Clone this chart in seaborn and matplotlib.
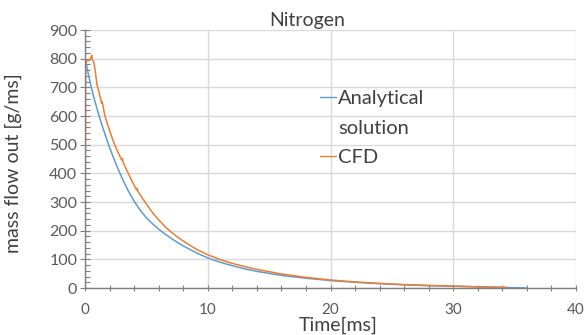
"""Nitrogen blowdown: analytical solution vs CFD mass flow out."""

import matplotlib

matplotlib.use("Agg")

import matplotlib.pyplot as plt
import pandas as pd
import seaborn as sns
from matplotlib.lines import Line2D
from matplotlib.ticker import MultipleLocator

sns.set_theme(style="white")
plt.rcParams["font.family"] = ["Lato", "DejaVu Sans"]

# values
analytical_time = [0, 0.25, 0.5, 0.75, 1, 1.25, 1.5, 1.75, 2, 2.5, 3, 3.5,
                   4, 4.5, 5, 5.5, 6, 6.5, 7, 7.5, 8, 9, 10, 11, 12, 13, 14,
                   16, 18, 20, 22, 24, 26, 28, 30, 32, 34, 36]
analytical_flow = [805, 750, 702, 660, 622, 586, 553, 521, 490, 435, 385,
                   341, 303, 271, 245, 224, 205, 189, 174, 160, 147, 124,
                   105, 90, 78, 67, 58, 44, 34, 26, 20, 15, 11, 8, 6, 4, 2, 0]

cfd_time = [0, 0.05, 0.2, 0.35, 0.45, 0.55, 0.6, 0.7, 0.8, 0.9, 1.0, 1.1,
            1.2, 1.3, 1.35, 1.4, 1.5, 1.6, 1.8, 2.0, 2.2, 2.4, 2.6, 2.8,
            3.0, 3.05, 3.1, 3.3, 3.5, 3.75, 4.0, 4.2, 4.25, 4.3, 4.6, 5.0,
            5.5, 6.0, 6.5, 7.0, 7.5, 8.0, 9.0, 10, 11, 12, 13, 14, 16, 18,
            20, 22, 24, 26, 28, 30, 32, 34.4]
cfd_flow = [0, 785, 795, 793, 800, 812, 795, 790, 768, 735, 705, 690, 672,
            655, 645, 650, 628, 605, 575, 550, 525, 502, 482, 463, 446, 452,
            440, 420, 402, 380, 358, 343, 348, 338, 318, 293, 263, 238, 215,
            196, 179, 164, 137, 116, 99, 86, 75, 65, 49, 37, 28, 21, 16, 12,
            9, 7, 4, 2]

title_text = "Nitrogen"
x_label = "Time[ms]"
y_label = "mass flow out [g/ms]"
legend_labels = ["Analytical", "solution", "CFD"]

BLUE = "#5B9BD5"
ORANGE = "#ED7D31"
GRID = "#D9D9D9"
AXIS = "#7F7F7F"
TEXT = "#404040"

analytical = pd.DataFrame({"time": analytical_time, "flow": analytical_flow})
cfd = pd.DataFrame({"time": cfd_time, "flow": cfd_flow})

fig = plt.figure(figsize=(5.87, 3.35), dpi=100)
ax = fig.add_axes([85 / 587, 1 - 288 / 335, 491 / 587, 258 / 335])

sns.lineplot(data=analytical, x="time", y="flow", color=BLUE, linewidth=1.1,
             sort=False, estimator=None, ax=ax)
sns.lineplot(data=cfd, x="time", y="flow", color=ORANGE, linewidth=1.1,
             sort=False, estimator=None, ax=ax)

ax.set_xlim(0, 40)
ax.set_ylim(0, 900)
ax.xaxis.set_major_locator(MultipleLocator(10))
ax.xaxis.set_minor_locator(MultipleLocator(2))
ax.yaxis.set_major_locator(MultipleLocator(100))
ax.yaxis.set_minor_locator(MultipleLocator(20))

ax.grid(True, which="major", color=GRID, linewidth=1.0)
ax.set_axisbelow(True)
for side in ["top", "right"]:
    ax.spines[side].set_visible(False)
for side in ["left", "bottom"]:
    ax.spines[side].set_color(AXIS)
    ax.spines[side].set_linewidth(1.0)

ax.tick_params(axis="x", which="both", direction="inout", length=5, width=0.8,
               color=AXIS, bottom=True, labelsize=11, labelcolor="#595959", pad=8.5)
ax.tick_params(axis="y", which="major", direction="inout", length=7.2, width=0.8,
               color=AXIS, left=True, labelsize=11.5, labelcolor="#595959", pad=2)
ax.tick_params(axis="y", which="minor", direction="in", length=3.6, width=0.8,
               color=AXIS, left=True)

ax.set_xlabel(x_label, fontsize=14, color=TEXT)
ax.xaxis.set_label_coords((338 - 85) / 491, -0.166)
ax.xaxis.label.set_verticalalignment("baseline")
ax.set_ylabel(y_label, fontsize=14, color=TEXT)
ax.yaxis.set_label_coords(-(85 - 22) / 491, (288 - 163) / 258)

fig.text(307 / 587, 1 - 26 / 335, title_text, fontsize=14, color=TEXT,
         ha="center", va="baseline")

# legend: the "solution" row continues the first label, so it has no key
handles = [Line2D([], [], color=BLUE, linewidth=1.0),
           Line2D([], [], color="none"),
           Line2D([], [], color=ORANGE, linewidth=1.0)]
leg = ax.legend(handles, legend_labels, loc="upper left",
                bbox_to_anchor=((320 - 85) / 491, (288 - 90) / 258),
                frameon=False, fontsize=14.5, handlelength=0.8, handletextpad=0.1,
                borderpad=0, borderaxespad=0, labelspacing=0.62)
for text in leg.get_texts():
    text.set_color(TEXT)

fig.savefig("out.png", dpi=100)
plt.close(fig)
